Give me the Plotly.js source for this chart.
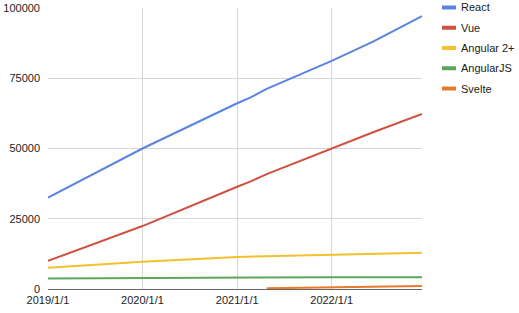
<!DOCTYPE html>
<html>
<head>
<meta charset="utf-8">
<script src="https://cdn.plot.ly/plotly-3.0.1.min.js"></script>
<style>html,body{margin:0;padding:0;background:#fff;}#chart{width:519px;height:313px;}</style>
</head>
<body>
<div id="chart"></div>
<script>
const seriesNames = ["React", "Vue", "Angular 2+", "AngularJS", "Svelte"];
const seriesColors = ["#5a84e4", "#cf5140", "#f2c12c", "#5ca65a", "#e77a2c"];

const reactDates = ["2019-01-01", "2020-01-01", "2021-01-01", "2021-02-20", "2021-04-25", "2022-01-01", "2022-06-10", "2022-12-16"];
const reactValues = [32500, 50000, 66100, 68100, 71200, 81200, 88000, 97100];

const vueDates = ["2019-01-01", "2020-01-01", "2021-01-01", "2021-02-20", "2021-04-25", "2022-01-01", "2022-06-10", "2022-12-16"];
const vueValues = [10000, 22400, 36400, 38200, 40900, 50000, 55800, 62300];

const ng2Dates = ["2019-01-01", "2020-01-01", "2021-01-01", "2022-01-01", "2022-12-16"];
const ng2Values = [7600, 9700, 11400, 12200, 12900];

const ngjsDates = ["2019-01-01", "2020-01-01", "2021-01-01", "2021-04-25", "2022-01-01", "2022-12-16"];
const ngjsValues = [3700, 3950, 4100, 4250, 4200, 4150];

const svelteDates = ["2021-04-25", "2022-01-01", "2022-12-16"];
const svelteValues = [250, 600, 1070];

const xTickVals = ["2019-01-01", "2020-01-01", "2021-01-01", "2022-01-01"];
const yTickVals = [0, 25000, 50000, 75000, 100000];

const allDates = [reactDates, vueDates, ng2Dates, ngjsDates, svelteDates];
const allValues = [reactValues, vueValues, ng2Values, ngjsValues, svelteValues];

const traces = seriesNames.map((n, i) => ({
  x: allDates[i], y: allValues[i], type: "scatter", mode: "lines", name: n,
  line: {color: seriesColors[i], width: 2}, showlegend: false
}));

// custom legend
const L = 48, T = 8, W = 374, H = 281;
const px2x = p => (p - L) / W;
const px2y = p => (T + H - p) / H;
const shapes = [];
const annotations = [];
seriesNames.forEach((n, i) => {
  const yp = 7.5 + i * 20.25;
  shapes.push({type: "line", xref: "paper", yref: "paper", x0: px2x(442), x1: px2x(456), y0: px2y(yp), y1: px2y(yp),
    line: {color: seriesColors[i], width: 4}});
  annotations.push({xref: "paper", yref: "paper", x: px2x(460), y: px2y(yp), xanchor: "left", yanchor: "middle",
    text: n, showarrow: false, font: {size: 11, color: "#222"}, borderpad: 0});
});

const layout = {
  width: 519, height: 313,
  margin: {l: L, r: 519 - L - W, t: T, b: 313 - T - H},
  paper_bgcolor: "#fff", plot_bgcolor: "#fff",
  font: {family: "Liberation Sans, Arial, sans-serif", size: 11, color: "#222"},
  xaxis: {
    type: "date", range: ["2019-01-01", "2022-12-16"],
    tickvals: xTickVals, tickformat: "%Y/%-m/%-d",
    showgrid: true, gridcolor: "#d6d6d6", gridwidth: 1,
    zeroline: false, showline: false, ticks: "", ticklabelstandoff: 3, fixedrange: true
  },
  yaxis: {
    range: [0, 100000], tickvals: yTickVals, tickformat: "d",
    showgrid: true, gridcolor: "#d6d6d6", gridwidth: 1,
    zeroline: true, zerolinecolor: "#666", zerolinewidth: 1,
    showline: false, ticks: "", ticklabelstandoff: 7
  },
  shapes: shapes,
  annotations: annotations,
  showlegend: false
};

Plotly.newPlot("chart", traces, layout, {displayModeBar: false, staticPlot: true});
</script>
</body>
</html>
